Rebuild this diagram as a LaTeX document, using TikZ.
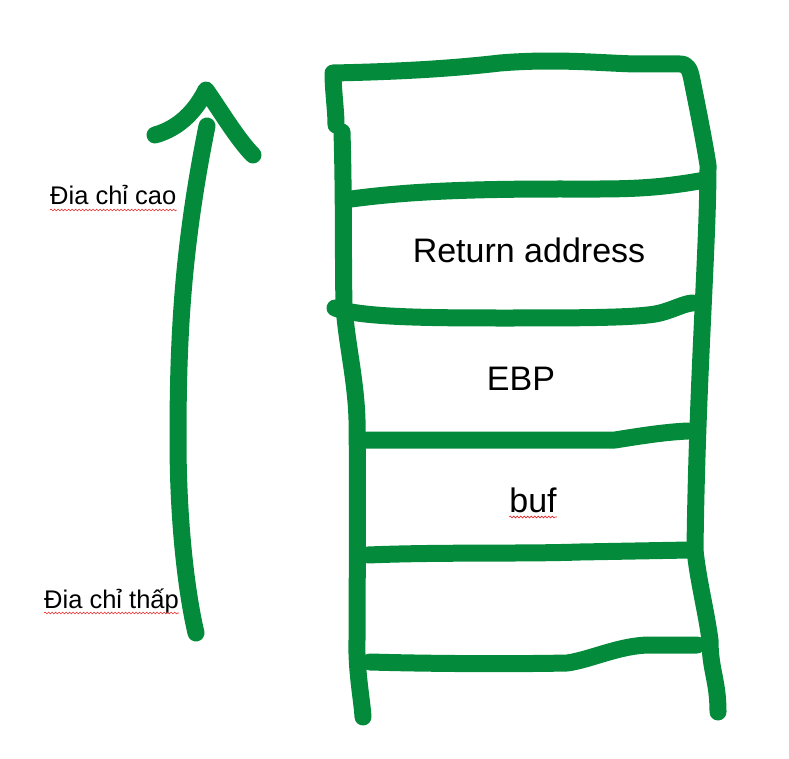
\documentclass[tikz,border=0pt]{standalone}
\usepackage{fontspec}
\setmainfont{Liberation Sans}
\usetikzlibrary{decorations.pathmorphing}
\definecolor{penGreen}{RGB}{3,139,59}
\definecolor{spellRed}{RGB}{230,40,40}
\begin{document}
\begin{tikzpicture}[x=1pt,y=-1pt,
    pen/.style={draw=penGreen,line width=17pt,line cap=round,line join=round},
    boxlabel/.style={inner sep=0pt,anchor=base,font=\fontsize{34}{40}\selectfont},
    sidelabel/.style={inner sep=0pt,anchor=base west,font=\fontsize{25.5}{30}\selectfont},
    squiggle/.style={draw=spellRed,line width=0.6pt,decorate,
        decoration={snake,amplitude=0.9pt,segment length=3.5pt}}]
    \useasboundingbox (0,0) rectangle (789,759);
    % arrow up
    \draw [pen] (196,633) .. controls (186,590) and (178,520) .. (178,440)
        .. controls (178,340) and (182,250) .. (207,126);
    \draw [pen] (155,135) .. controls (180,128) and (196,110) .. (206,90)
        .. controls (220,110) and (238,140) .. (253,155);
    % outline of the stack
    \draw [pen] (336,125) .. controls (336,110) and (333,90) .. (333,73)
        .. controls (380,72) and (440,70) .. (500,63)
        .. controls (560,58) and (610,64) .. (640,64)
        -- (680,64) .. controls (688,64) and (690,70) .. (692,80)
        .. controls (698,110) and (704,140) .. (708,165)
        .. controls (708,250) and (697,380) .. (695,550)
        .. controls (698,580) and (706,610) .. (710,640)
        .. controls (710,670) and (718,680) .. (718,712);
    \draw [pen] (342,132) .. controls (344,200) and (343,260) .. (344,305)
        .. controls (346,340) and (356,380) .. (357,420)
        .. controls (358,500) and (357,600) .. (357,640)
        .. controls (356,670) and (362,700) .. (363,717);
    % shelves
    \draw [pen] (344,200) .. controls (400,192) and (460,189) .. (560,189)
        .. controls (620,189) and (650,190) .. (705,180);
    \draw [pen] (335,308) .. controls (360,317) and (420,318) .. (500,318)
        .. controls (580,318) and (640,318) .. (660,313)
        .. controls (675,309) and (683,304) .. (692,303);
    \draw [pen] (362,440) -- (615,440) .. controls (640,436) and (665,432) .. (688,431);
    \draw [pen] (368,555) .. controls (440,552) and (520,554) .. (580,552)
        -- (690,550);
    \draw [pen] (370,662) .. controls (440,664) and (520,664) .. (567,663)
        .. controls (590,660) and (620,645) .. (650,645) -- (697,645);
    % labels
    \node [boxlabel] (ret) at (529,262) {Return address};
    \node [boxlabel] (ebp) at (521,390) {EBP};
    \node [boxlabel] (buf) at (533,512) {buf};
    \node [sidelabel] (high) at (50,205) {Đia chỉ cao};
    \node [sidelabel] (low) at (44,608) {Đia chỉ thấp};
    \draw [squiggle] ([yshift=-5pt]buf.base west) -- ([yshift=-5pt]buf.base east);
    \draw [squiggle] ([yshift=-5pt]high.base west) -- ([yshift=-5pt]high.base east);
    \draw [squiggle] ([yshift=-5pt]low.base west) -- ([yshift=-5pt]low.base east);
\end{tikzpicture}
\end{document}
